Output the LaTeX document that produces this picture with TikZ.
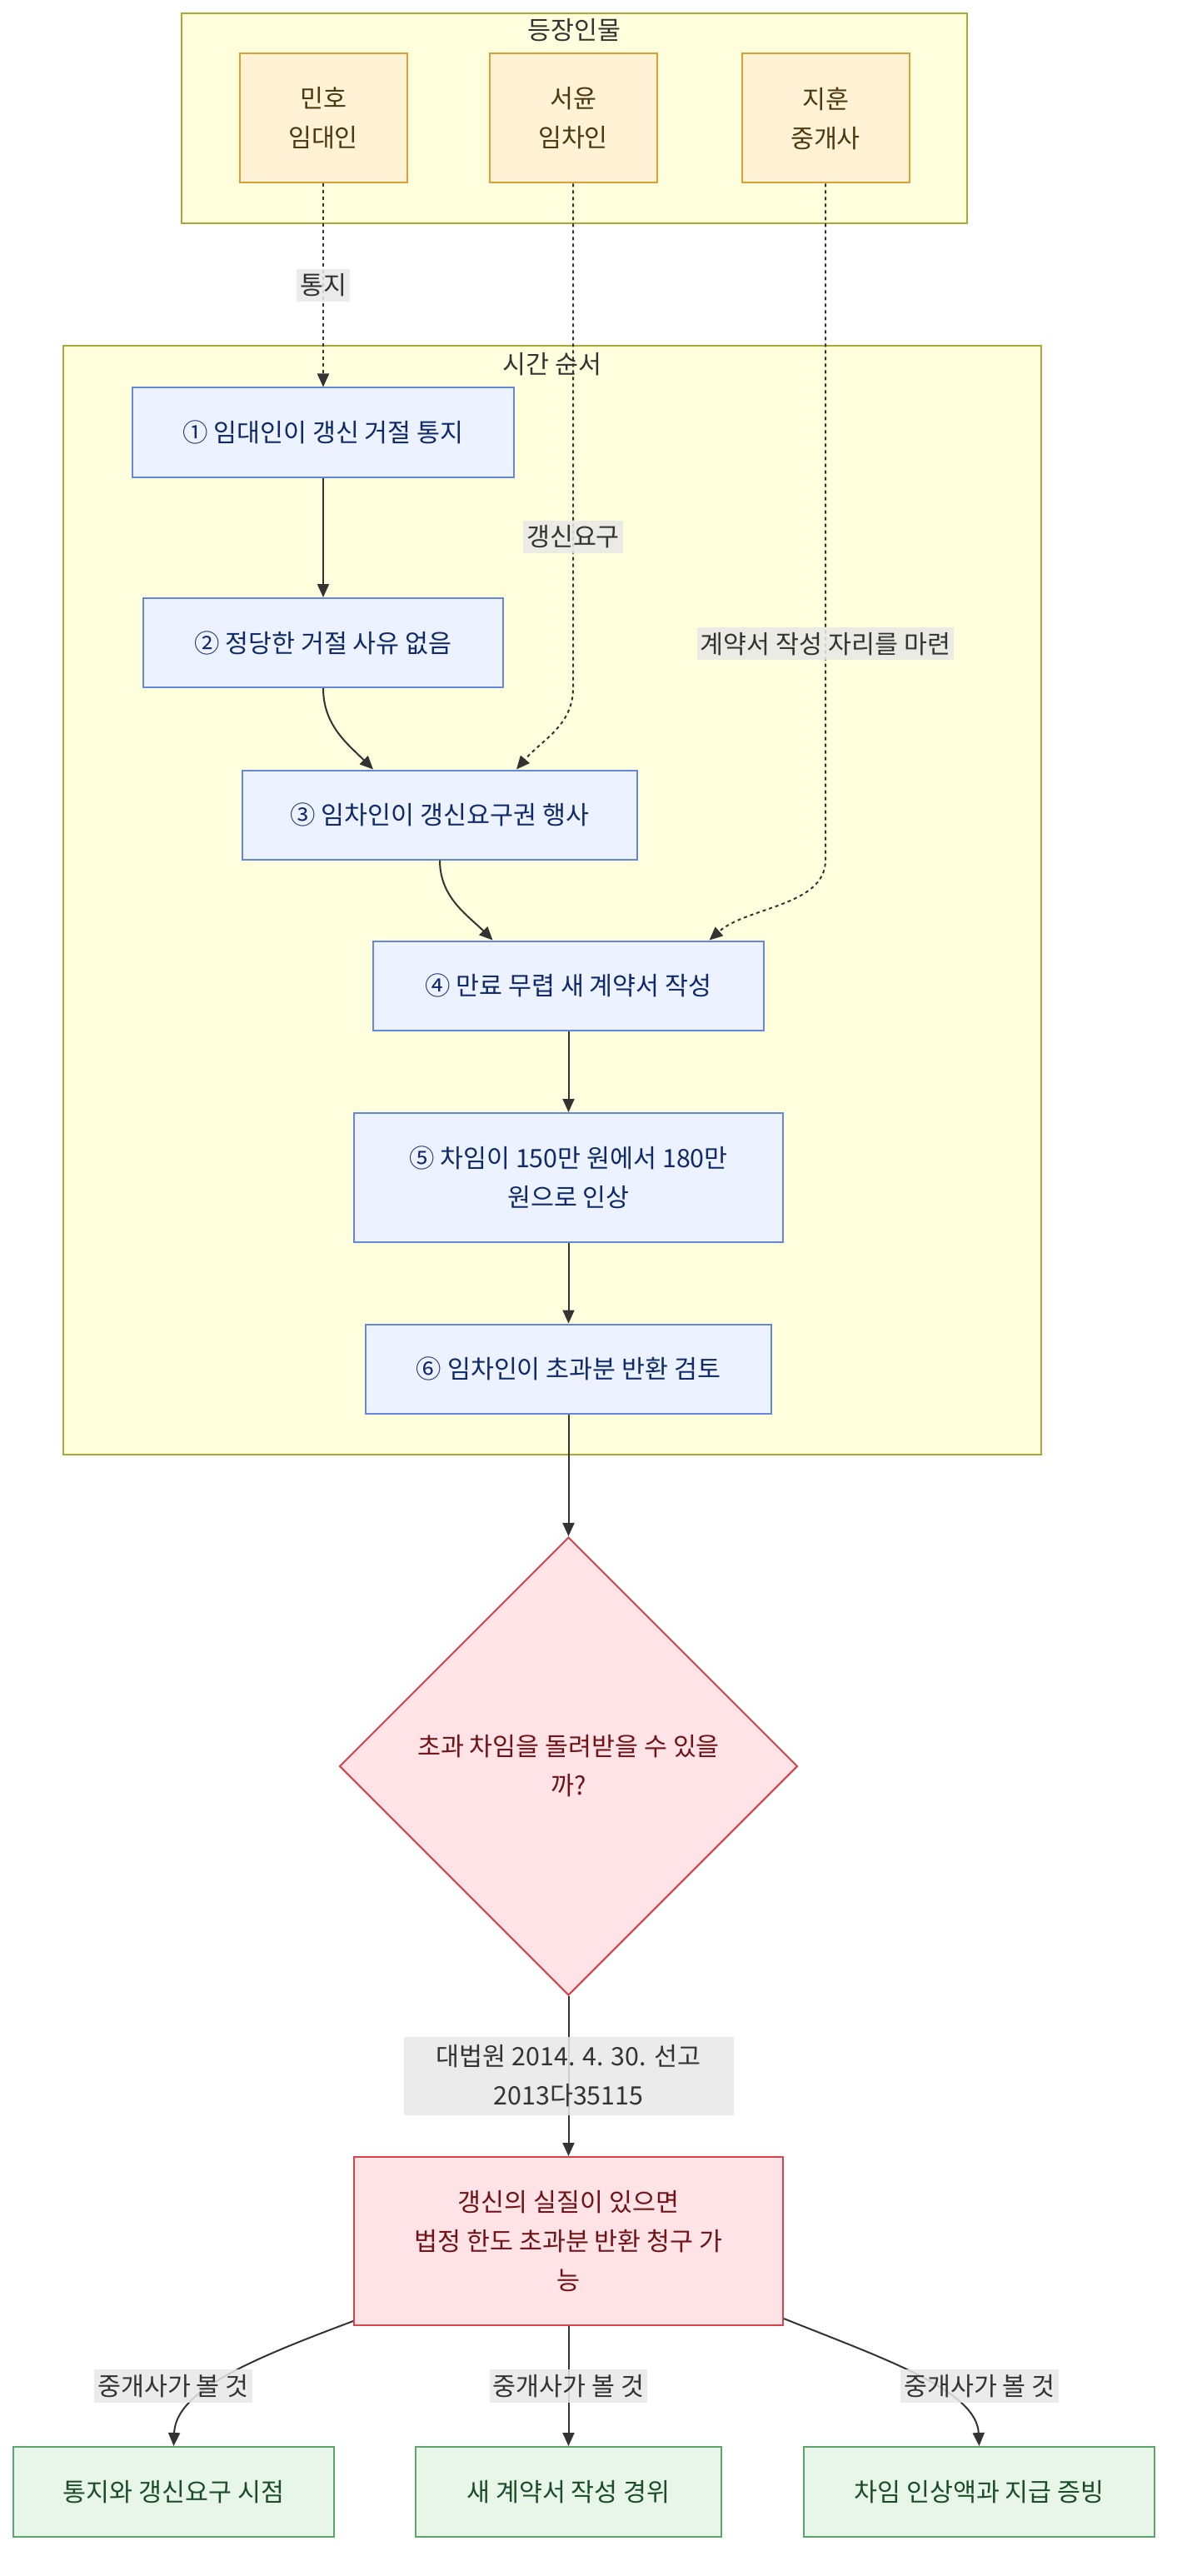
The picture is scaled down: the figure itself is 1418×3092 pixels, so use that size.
\documentclass[tikz,border=0pt]{standalone}
\usepackage{fontspec}
\setmainfont{Noto Sans CJK KR}
\usepackage{tikz}
\usetikzlibrary{shapes.geometric}
\usetikzlibrary{positioning}
\usetikzlibrary{calc}
\usetikzlibrary{arrows.meta}
\definecolor{clfill}{HTML}{FFFFDE}
\definecolor{cldraw}{HTML}{AAAA33}
\definecolor{acfill}{HTML}{FFF2D5}
\definecolor{acdraw}{HTML}{DA9F35}
\definecolor{actext}{HTML}{4A3A10}
\definecolor{blfill}{HTML}{ECF2FF}
\definecolor{bldraw}{HTML}{6287DB}
\definecolor{bltext}{HTML}{0E2A6B}
\definecolor{rdfill}{HTML}{FFE3E6}
\definecolor{rddraw}{HTML}{D9434B}
\definecolor{rdtext}{HTML}{701216}
\definecolor{gnfill}{HTML}{E8F5E9}
\definecolor{gndraw}{HTML}{5AA66A}
\definecolor{gntext}{HTML}{1B4D2A}
\definecolor{lbfill}{HTML}{E8E8E8}
\definecolor{lntext}{HTML}{333333}

\begin{document}
\begin{tikzpicture}[x=0.5pt,y=-0.5pt,
  font=\fontsize{15.2pt}{23.5pt}\selectfont,
  cluster/.style = {draw=cldraw,fill=clfill,line width=1pt,inner sep=0pt},
  ttl/.style = {text=lntext,inner sep=0pt},
  actor/.style = {draw=acdraw,fill=acfill,line width=1pt,text=actext,
  align=center,minimum width=100.5pt,minimum height=77.5pt},
  box/.style = {draw=bldraw,fill=blfill,line width=1pt,text=bltext,
  align=center,minimum height=53.5pt},
  cond/.style = {diamond,aspect=1,draw=rddraw,fill=rdfill,line width=1pt,
  text=rdtext,align=center,minimum width=275pt,minimum height=275pt,inner sep=0pt},
  result/.style = {draw=rddraw,fill=rdfill,line width=1pt,text=rdtext,
  align=center,minimum width=257.5pt,minimum height=101pt},
  check/.style = {draw=gndraw,fill=gnfill,line width=1pt,text=gntext,
  align=center,minimum height=54pt},
  lbl/.style = {fill=lbfill,fill opacity=0.85,text opacity=1,text=lntext,
  align=center,inner xsep=2pt,inner ysep=3pt},
  link/.style = {draw=lntext,line width=1pt,-{Triangle[length=8pt,width=7pt]}},
  dotlink/.style = {link,dash pattern=on 2pt off 2pt}]
 \useasboundingbox (0,0) rectangle (1418,3092);
 \node[cluster,minimum width=471.5pt,minimum height=126pt] (cl1) at (689.5,142) {};
 \node[ttl] (t1) at ($(cl1.north)+(0,21)$) {등장인물};
 \node[cluster,minimum width=587pt,minimum height=665.5pt] (cl2) at (663,1080.5) {};
 \node[ttl] (t2) at ($(cl2.north)+(0,23)$) {시간 순서};

 \node[actor] (a1) at (388,142) {민호\\임대인};
 \node[actor] (a2) at (688,142) {서윤\\임차인};
 \node[actor] (a3) at (991,142) {지훈\\중개사};

 \node[box,minimum width=229pt]   (b1) at (388,519)     {① 임대인이 갱신 거절 통지};
 \node[box,minimum width=216pt]   (b2) at (388,771.5)   {② 정당한 거절 사유 없음};
 \node[box,minimum width=237pt]   (b3) at (528,978)     {③ 임차인이 갱신요구권 행사};
 \node[box,minimum width=234.5pt] (b4) at (682.5,1183)  {④ 만료 무렵 새 계약서 작성};
 \node[box,minimum width=257.5pt,minimum height=77.5pt] (b5) at (682.5,1413.5)
   {⑤ 차임이 150만 원에서 180만\\원으로 인상};
 \node[box,minimum width=243.5pt] (b6) at (682.5,1643)  {⑥ 임차인이 초과분 반환 검토};

 \node[cond]   (c1) at (682.5,2120) {초과 차임을 돌려받을 수 있을\\까?};
 \node[result] (r1) at (682.5,2690) {갱신의 실질이 있으면\\법정 한도 초과분 반환 청구 가\\능};

 \node[check,minimum width=192.5pt] (g1) at (208.5,2991)  {통지와 갱신요구 시점};
 \node[check,minimum width=183.5pt] (g2) at (682.5,2991)  {새 계약서 작성 경위};
 \node[check,minimum width=210.5pt] (g3) at (1175.5,2991) {차임 인상액과 지급 증빙};

 \begin{scope}[link]
  \draw[dotlink] (a1) -- node[lbl] (k1) {통지} (b1);
  \draw[dotlink] (a2.south) -- node[lbl,pos=0.7] (k2) {갱신요구} (a2.south |- b2.south)
   .. controls +(0,45) and +(30,-35) .. ($(b3.north)+(92,0)$);
  \draw[dotlink] (a3.south) -- node[lbl,pos=0.68] (k3) {계약서 작성 자리를 마련} (a3.south |- b3.south)
   .. controls +(0,55) and +(45,-40) .. ($(b4.north)+(169,0)$);
  \draw (b1) -- (b2);
  \draw (b2.south) .. controls +(0,45) and +(-30,-30) .. ($(b3.north)+(-80,0)$);
  \draw (b3.south) .. controls +(0,45) and +(-30,-30) .. ($(b4.north)+(-91,0)$);
  \draw (b4) -- (b5);
  \draw (b5) -- (b6);
  \draw (b6) -- (c1);
  \draw (c1) -- node[lbl,minimum width=198pt,minimum height=47pt] (k4)
   {대법원 2014. 4. 30. 선고\\2013다35115} (r1);
  \draw ($(r1.south west)+(0,-6)$) .. controls +(-120,45) and +(2.5,-67) .. (g1.north);
  \draw (r1) -- node[lbl] (k6) {중개사가 볼 것} (g2);
  \draw ($(r1.south east)+(0,-9)$) .. controls +(120,48) and +(-3,-67) .. (g3.north);
 \end{scope}
 \node[lbl] (k5) at (208,2864)  {중개사가 볼 것};
 \node[lbl] (k7) at (1176,2864) {중개사가 볼 것};
\end{tikzpicture}
\end{document}
